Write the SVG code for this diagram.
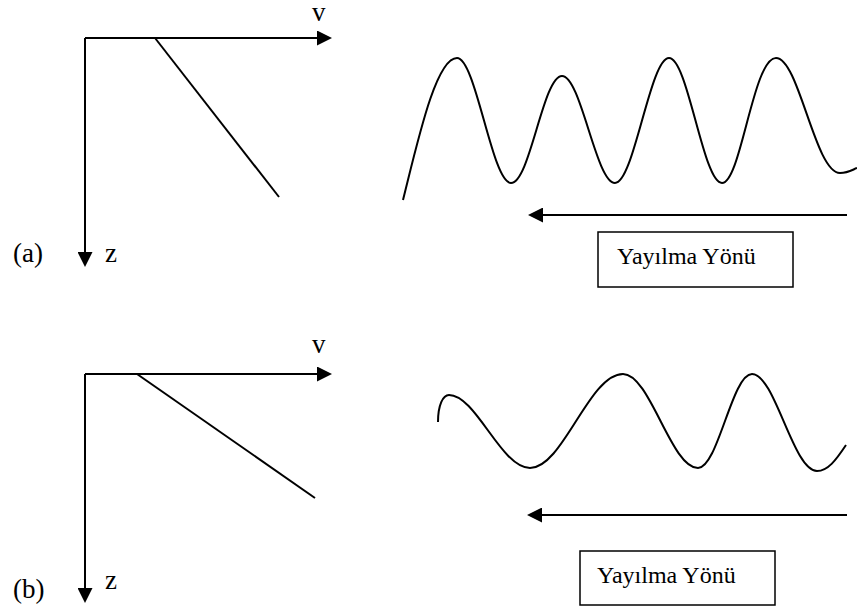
<svg xmlns="http://www.w3.org/2000/svg" width="857" height="607" viewBox="0 0 857 607">
<style>
.ln{fill:none;stroke:#000;stroke-width:2}
.tx{font-family:"Liberation Serif","Times New Roman",serif;font-size:24px;fill:#000}
.lb{font-family:"Liberation Serif","Times New Roman",serif;font-size:27px;fill:#000}
.bx{fill:#fff;stroke:#000;stroke-width:1.5}
</style>
<defs>
<marker id="ah" markerUnits="userSpaceOnUse" markerWidth="16" markerHeight="15" refX="11" refY="7.5" orient="auto">
<path d="M0,0 L15,7.5 L0,15 z" fill="#000"/>
</marker>
</defs>
<rect width="857" height="607" fill="#fff"/>

<g id="axes-a">
<path class="ln" d="M85,38 H328" marker-end="url(#ah)"/>
<path class="ln" d="M85,38 V263" marker-end="url(#ah)"/>
<line class="ln" x1="155" y1="38" x2="279" y2="197"/>
<text class="lb" x="312" y="21">v</text>
<text class="lb" x="105" y="262">z</text>
<text class="lb" x="13" y="262">(a)</text>
</g>

<g id="wave-a">
<path class="ln" d="M403,200 C418,140 436,58 457,58 C476,58 492,183 511,183 C530,183 543,76 562,76 C581,76 596,183 615,183 C634,183 650,58 669,58 C688,58 703,183 722,183 C741,183 753,58 776,58 C799,58 815,173 840,173 C848,173 852,170 857,168"/>
</g>

<g id="box-a">
<rect class="bx" x="598" y="232" width="195" height="55"/>
<text class="tx" x="617" y="264">Yayılma Yönü</text>
</g>

<g id="axes-b">
<path class="ln" d="M85,374 H328" marker-end="url(#ah)"/>
<path class="ln" d="M85,374 V599" marker-end="url(#ah)"/>
<line class="ln" x1="137" y1="374" x2="315" y2="498"/>
<text class="lb" x="312" y="353">v</text>
<text class="lb" x="105" y="589">z</text>
<text class="lb" x="13" y="598">(b)</text>
</g>

<g id="wave-b">
<path class="ln" d="M438,422 C438,405 443,395 449,395 C476,395 501,468 530,468 C563,468 589,374 623,374 C650,374 671,468 698,468 C718,468 732,374 752,374 C775,374 793,471 817,471 C828,471 836,460 846,445"/>
</g>

<g id="box-b">
<rect class="bx" x="580" y="551" width="195" height="54"/>
<text class="tx" x="597" y="583">Yayılma Yönü</text>
</g>

<g id="connectors">
<line class="ln" x1="847" y1="215" x2="532" y2="215" marker-end="url(#ah)"/>
<line class="ln" x1="847" y1="515" x2="531" y2="515" marker-end="url(#ah)"/>
</g>
</svg>
